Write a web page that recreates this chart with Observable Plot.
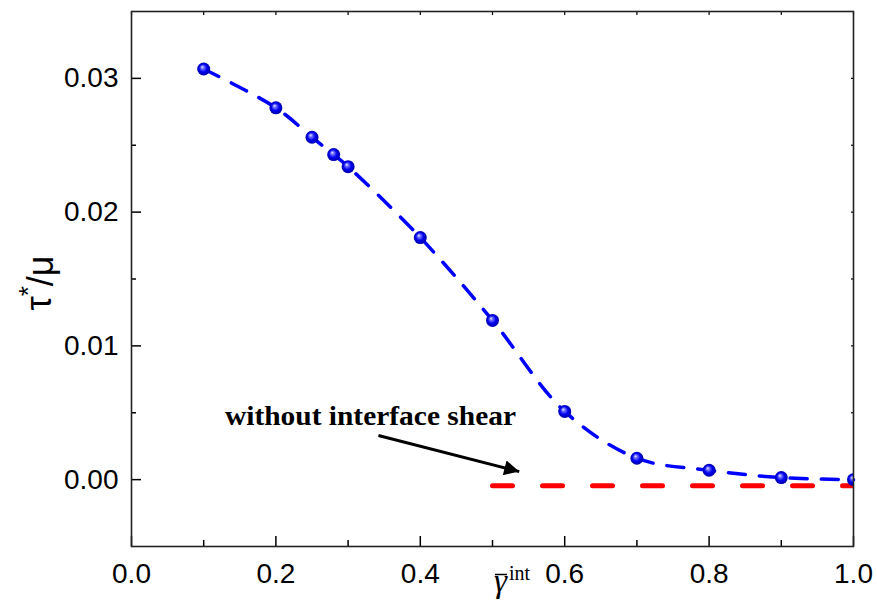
<!DOCTYPE html>
<html>
<head>
<meta charset="utf-8">
<script src="https://cdn.jsdelivr.net/npm/d3@7"></script>
<script src="https://cdn.jsdelivr.net/npm/@observablehq/plot@0.6"></script>
<style>
  html, body { margin: 0; padding: 0; background: #fff; }
  svg { display: block; }
</style>
</head>
<body>
<div id="chart"></div>
<script>
// ---- data ----
const gammaInt = [0.1, 0.2, 0.25, 0.28, 0.3, 0.4, 0.5, 0.6, 0.7, 0.8, 0.9, 1.0];
const tauMu    = [0.0307, 0.0278, 0.0256, 0.0243, 0.0234, 0.0181, 0.0119, 0.0051, 0.0016, 0.0007, 0.00015, 0.0];
const noShearX = [0.5, 1.0];
const noShearY = [-0.00045, -0.00045];
const xMajor = [0, 0.2, 0.4, 0.6, 0.8, 1.0];
const xMinor = [0.1, 0.3, 0.5, 0.7, 0.9];
const yMajor = [0, 0.01, 0.02, 0.03];
const yMinor = [0.005, 0.015, 0.025];
const annotText = "without interface shear";
const annotPos = [{x: 0.331, y: 0.0047}];
const arrowPos = [{x1: 0.342, y1: 0.0033, x2: 0.537, y2: 0.0006}];
const xLabelPos = [{x: 0.502}];

const pts = gammaInt.map((g, i) => ({x: g, y: tauMu[i]}));
const ref = noShearX.map((g, i) => ({x: g, y: noShearY[i]}));

const serif = "Liberation Serif, Times New Roman, serif";

const plot = Plot.plot({
  width: 877,
  height: 606,
  marginLeft: 131,
  marginRight: 24,
  marginTop: 11,
  marginBottom: 60,
  style: {background: "#fff", fontFamily: "Liberation Sans, Arial, sans-serif", color: "#000"},
  x: {domain: [0, 1]},
  y: {domain: [-0.005, 0.035]},
  marks: [
    // bottom axis labels + ticks
    Plot.axisX(xMajor, {anchor: "bottom", tickSize: 0, tickPadding: 17, fontSize: 28, tickFormat: d3.format(".1f"), label: null}),
    Plot.axisX(xMajor, {anchor: "bottom", tickSize: -10, strokeWidth: 1.5, tickFormat: () => "", label: null}),
    Plot.axisX(xMinor, {anchor: "bottom", tickSize: -6, strokeWidth: 1.5, tickFormat: () => "", label: null}),
    Plot.axisX(xMajor.concat(xMinor), {anchor: "top", tickSize: -3, strokeWidth: 1.2, tickFormat: () => "", label: null}),
    // left axis labels + ticks
    Plot.axisY(yMajor, {anchor: "left", tickSize: 0, tickPadding: 13, fontSize: 28, tickFormat: d3.format(".2f"), label: null}),
    Plot.axisY(yMajor, {anchor: "left", tickSize: -10, strokeWidth: 1.5, tickFormat: () => "", label: null}),
    Plot.axisY(yMinor, {anchor: "left", tickSize: -5, strokeWidth: 1.5, tickFormat: () => "", label: null}),
    Plot.axisY(yMajor.concat(yMinor), {anchor: "right", tickSize: -3, strokeWidth: 1.2, tickFormat: () => "", label: null}),
    // red reference line
    Plot.line(ref, {x: "x", y: "y", stroke: "#ff0000", strokeWidth: 5, strokeDasharray: "20,30", strokeLinecap: "round", clip: true}),
    // blue dashed curve
    Plot.line(pts, {x: "x", y: "y", stroke: "#0000ff", strokeWidth: 3.5, strokeDasharray: "17,14", curve: "catmull-rom"}),
    // balls
    Plot.dot(pts, {x: "x", y: "y", r: 6.5, fill: "#0000ff", stroke: "none", className: "balls", clip: true}),
    // annotation
    Plot.text(annotPos, {x: "x", y: "y", text: () => annotText, fontFamily: serif, fontWeight: "bold", fontSize: 27, textAnchor: "middle", fill: "#000", className: "annot"}),
    Plot.link(arrowPos, {x1: "x1", y1: "y1", x2: "x2", y2: "y2", stroke: "#000", strokeWidth: 3, className: "annarrow"}),
    // axis titles
    Plot.text(xLabelPos, {x: "x", frameAnchor: "bottom", dy: 45, text: () => "γint", textAnchor: "start", fontFamily: serif, fontSize: 33, fill: "#000", className: "xlab"}),
    Plot.text([0], {frameAnchor: "left", dx: -92, dy: 4, rotate: -90, text: () => "τ*/μ", textAnchor: "middle", fontSize: 36, fill: "#000", className: "ylab"}),
    Plot.frame({stroke: "#222", strokeWidth: 1.6})
  ]
});

document.getElementById("chart").appendChild(plot);

// ---- post-processing: gradient balls, arrow head, rich labels ----
const svg = d3.select(plot);
const defs = svg.insert("defs", ":first-child");
const grad = defs.append("radialGradient").attr("id", "ball")
  .attr("cx", "0.5").attr("cy", "0.5").attr("r", "0.5").attr("fx", "0.38").attr("fy", "0.33");
grad.append("stop").attr("offset", "0%").attr("stop-color", "#f2f2ff");
grad.append("stop").attr("offset", "22%").attr("stop-color", "#7a7aff");
grad.append("stop").attr("offset", "60%").attr("stop-color", "#0000f0");
grad.append("stop").attr("offset", "100%").attr("stop-color", "#0000a8");
svg.selectAll(".balls circle").attr("fill", "url(#ball)");

defs.append("marker").attr("id", "ahead")
  .attr("viewBox", "0 0 10 10").attr("refX", 10).attr("refY", 5)
  .attr("markerWidth", 24).attr("markerHeight", 15)
  .attr("markerUnits", "userSpaceOnUse").attr("orient", "auto")
  .append("path").attr("d", "M0,0 L10,5 L0,10 Z").attr("fill", "#000");
svg.selectAll(".annarrow path, .annarrow line").attr("marker-end", "url(#ahead)");

svg.selectAll(".annot text").attr("textLength", 291).attr("lengthAdjust", "spacingAndGlyphs");

// x label: italic gamma with an overbar and superscript "int"
const xl = svg.select(".xlab text");
xl.text(null);
xl.append("tspan").attr("font-style", "italic").text("γ");
xl.append("tspan").attr("font-size", 20).attr("dx", 2).attr("dy", -12).text("int");
{
  const node = xl.node();
  const ext = node.getExtentOfChar(0);
  const start = node.getStartPositionOfChar(0);
  d3.select(node.parentNode).append("line")
    .attr("transform", xl.attr("transform"))
    .attr("x1", ext.x + 1).attr("x2", ext.x + ext.width)
    .attr("y1", start.y - 17).attr("y2", start.y - 17)
    .attr("stroke", "#000").attr("stroke-width", 1.5);
}

// y label: tau with superscript asterisk over mu
const yl = svg.select(".ylab text");
yl.text(null);
yl.append("tspan").text("τ");
yl.append("tspan").attr("font-size", 26).attr("dy", "-0.55em").text("*");
yl.append("tspan").attr("dy", "0.45em").text("/μ");
</script>
</body>
</html>
